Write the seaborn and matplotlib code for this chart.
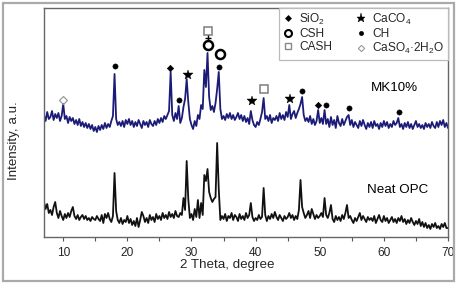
import numpy as np
import pandas as pd
import matplotlib
matplotlib.use("Agg")
import matplotlib.pyplot as plt
from matplotlib.lines import Line2D
from matplotlib.patches import Rectangle
import seaborn as sns

# ---------------- data ----------------
two_theta = np.arange(7, 70.001, 0.25)

mk10 = [
    122, 116, 125, 118,  120, 126, 117, 123,  119, 124, 116, 121,  133, 118, 121, 114,
    120, 116, 119, 113,  117, 112, 118, 111,  115, 110, 114, 109,  113, 108, 112, 106,
    110, 105, 111, 107,  112, 108, 114, 109,  113, 110, 116, 121,  163, 118, 112, 115,
    111, 116, 110, 117,  113, 118, 112, 116,  110, 115, 111, 117,  113, 109, 116, 112,
    115, 110, 117, 113,  111, 116, 112, 118,  114, 119, 115, 121,  118, 122, 126, 165,
    122, 116, 124, 118,  131, 114, 119, 130,  138, 158, 135, 118,  112, 108, 116, 111,
    122, 118, 132, 128,  167, 150, 184, 140,  127, 131, 125, 134,  148, 165, 128, 118,
    121, 117, 123, 119,  124, 118, 122, 117,  120, 124, 118, 122,  116, 121, 115, 119,
    113, 126, 117, 112,  110, 115, 112, 118,  125, 139, 118, 121,  116, 122, 114, 119,
    117, 121, 116, 124,  118, 122, 117, 125,  120, 132, 118, 123,  126, 119, 124, 128,
    133, 140, 122, 116,  119, 115, 121, 113,  118, 112, 116, 127,  114, 119, 113, 127,
    113, 118, 110, 120,  112, 117, 109, 121,  114, 111, 118, 112,  116, 120, 122, 112,
    117, 110, 115, 112,  109, 116, 111, 117,  112, 108, 114, 110,  115, 109, 116, 111,
    113, 108, 114, 110,  116, 111, 115, 109,  113, 110, 116, 112,  114, 119, 110, 113,
    108, 114, 110, 115,  109, 113, 108, 112,  116, 110, 113, 109,  112, 108, 114, 110,
    113, 109, 115, 111,  109, 115, 110, 116,  112, 117, 110, 114,  109,
]

neat_opc = [
    35, 28, 33, 24,  27, 22, 30, 35,  24, 19, 26, 21,  17, 23, 19, 24,
    20, 26, 30, 21,  18, 22, 17, 20,  22, 18, 21, 17,  19, 16, 20, 18,
    17, 21, 18, 16,  22, 14, 23, 19,  24, 18, 15, 21,  64, 26, 17, 14,
    19, 13, 17, 15,  21, 14, 18, 12,  16, 11, 19, 10,  17, 25, 21, 15,
    19, 14, 22, 17,  20, 15, 23, 18,  21, 17, 24, 19,  22, 18, 25, 20,
    23, 19, 26, 21,  20, 24, 22, 39,  27, 76, 38, 19,  23, 17, 28, 20,
    37, 19, 34, 22,  62, 56, 68, 45,  39, 35, 38, 40,  94, 48, 17, 21,
    18, 23, 16, 21,  19, 24, 17, 22,  20, 16, 23, 18,  21, 17, 24, 19,
    22, 34, 20, 16,  19, 17, 22, 18,  20, 49, 22, 16,  21, 18, 23, 19,
    25, 20, 17, 22,  19, 16, 21, 18,  20, 24, 19, 22,  17, 21, 18, 27,
    57, 30, 24, 19,  22, 26, 19, 28,  23, 18, 22, 19,  21, 24, 20, 39,
    22, 19, 24, 32,  18, 15, 21, 17,  20, 16, 22, 18,  24, 32, 19, 21,
    17, 14, 19, 16,  20, 24, 17, 21,  18, 15, 20, 17,  19, 16, 21, 14,
    18, 22, 17, 15,  21, 16, 19, 14,  17, 20, 15, 18,  14, 19, 16, 21,
    15, 18, 13, 17,  14, 19, 15, 12,  16, 13, 18, 11,  15, 10, 14, 9,
    12, 8, 13, 10,  14, 9, 11, 8,  13, 10, 14, 9,  9,
]

series_labels = ["MK10%", "Neat OPC"]

# peak annotations (phase, 2theta, height)
peak_phase = ["CaSO4", "CH", "SiO2", "CH", "CaCO3", "CASH", "plus", "CSH", "CSH", "CH",
              "CaCO3", "CASH", "CaCO3", "CH", "SiO2", "CH", "CH", "CH"]
peak_x = [10.0, 18.1, 26.7, 28.0, 29.4, 32.5, 32.5, 32.5, 34.4, 34.3,
          39.4, 41.3, 45.3, 47.3, 49.8, 50.9, 54.5, 62.3]
peak_y = [137, 171, 169, 137, 162, 206, 199, 192, 183, 170,
          136, 148, 138, 146, 132, 132, 129, 125]

legend_labels = ["SiO$_2$", "CSH", "CASH", "CaCO$_4$", "CH", "CaSO$_4$·2H$_2$O"]

# ---------------- style ----------------
sns.set_theme(style="white")
plt.rcParams["font.family"] = ["Liberation Sans", "DejaVu Sans"]
plt.rcParams["mathtext.default"] = "regular"

fig = plt.figure(figsize=(4.6, 2.85), dpi=100)
ax = fig.add_axes([44 / 460, 1 - 237 / 285, 404 / 460, 229 / 285])

df = pd.DataFrame({"two_theta": two_theta, "MK10%": mk10, "Neat OPC": neat_opc})
sns.lineplot(data=df, x="two_theta", y="MK10%", ax=ax, color="#1c1c78",
             linewidth=1.3, estimator=None)
sns.lineplot(data=df, x="two_theta", y="Neat OPC", ax=ax, color="#111111",
             linewidth=1.3, estimator=None)

styles = {
    "SiO2": dict(marker="D", ms=3.2, mfc="black", mec="black", mew=0.5),
    "CSH": dict(marker="o", ms=6.5, mfc="none", mec="black", mew=1.8),
    "CASH": dict(marker="s", ms=5.5, mfc="none", mec="#888888", mew=1.2),
    "CaCO3": dict(marker="*", ms=7.5, mfc="black", mec="black", mew=0.3),
    "CH": dict(marker="o", ms=3.8, mfc="black", mec="black", mew=0.3),
    "CaSO4": dict(marker="D", ms=3.8, mfc="none", mec="#999999", mew=0.9),
    "plus": dict(marker="+", ms=5, mfc="black", mec="black", mew=1.0),
}
for ph, px, py in zip(peak_phase, peak_x, peak_y):
    ax.plot([px], [py], linestyle="none", **styles[ph])

leg_styles = {
    "SiO2": dict(marker="D", ms=3.0, mfc="black", mec="black", mew=0.5),
    "CSH": dict(marker="o", ms=5.0, mfc="none", mec="black", mew=1.5),
    "CASH": dict(marker="s", ms=4.5, mfc="none", mec="#888888", mew=1.0),
    "CaCO3": dict(marker="*", ms=6.5, mfc="black", mec="black", mew=0.3),
    "CH": dict(marker="o", ms=3.2, mfc="black", mec="black", mew=0.3),
    "CaSO4": dict(marker="D", ms=3.2, mfc="none", mec="#999999", mew=0.8),
}
handles = [Line2D([], [], linestyle="none", **leg_styles[k])
           for k in ["SiO2", "CSH", "CASH", "CaCO3", "CH", "CaSO4"]]
leg = ax.legend(handles, legend_labels, ncol=2, loc="upper right",
                bbox_to_anchor=(1.0, 1.0), borderaxespad=0.0, fontsize=8.6,
                frameon=True, fancybox=False, edgecolor="#bbbbbb", framealpha=1,
                handlelength=0.9, handletextpad=0.45, columnspacing=2.0,
                labelspacing=0.1, borderpad=0.3)
leg.get_frame().set_linewidth(0.9)

ax.text(61.7, 149, series_labels[0], fontsize=9.6, ha="center", va="center", color="black")
ax.text(62.1, 47, series_labels[1], fontsize=9.6, ha="center", va="center", color="black")

ax.set_xlim(7, 70)
ax.set_ylim(0, 229)
ax.set_xticks([10, 20, 30, 40, 50, 60, 70])
ax.set_xticks([15, 25, 35, 45, 55, 65], minor=True)
ax.set_yticks([])
ax.tick_params(axis="x", which="both", direction="out", length=3, width=0.8,
               color="#555555", labelsize=8.6, pad=4, bottom=True)
ax.set_xlabel("2 Theta, degree", fontsize=9.6)
ax.set_ylabel("Intensity, a.u.", fontsize=9.6)
ax.xaxis.set_label_coords((227.5 - 44) / 404, -(259 - 237) / 229)
ax.yaxis.set_label_coords((20 - 44) / 404, (237 - 141) / 229)
for s in ax.spines.values():
    s.set_color("#666666")
    s.set_linewidth(1.0)

fig.patches.append(Rectangle((3 / 460, 1 - 281 / 285), 451 / 460, 278 / 285,
                             transform=fig.transFigure, fill=False,
                             edgecolor="#aaaaaa", linewidth=1.6))

fig.savefig("out.png", dpi=100)
